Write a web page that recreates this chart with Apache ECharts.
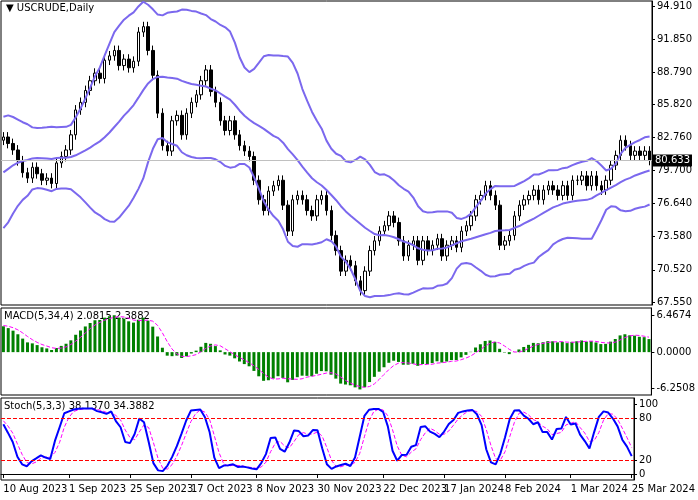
<!DOCTYPE html>
<html>
<head>
<meta charset="utf-8">
<script src="https://cdn.jsdelivr.net/npm/echarts@6/dist/echarts.min.js"></script>
<style>html,body{margin:0;padding:0;background:#fff}#main{width:698px;height:500px}</style>
</head>
<body>
<div id="main"></div>
<script>
// closes before the window, used only to warm up the indicators
var leadCloses = [70.5,71.8,72.0,73.5,74.0,75.4,76.9,76.5,75.8,75.4,75.7,75.6,75.0,75.8,76.5,77.1,77.0,78.7,79.0,79.7,
    79.3,78.8,80.5,81.4,81.8,82.0,81.6,82.4,83.0,82.5];
var closes = [82.8,82.2,81.6,80.6,79.5,79.0,80.0,79.4,78.8,
    79.0,78.5,80.4,81.0,81.6,83.0,85.3,86.0,87.1,
    88.0,88.7,88.2,89.9,90.3,90.8,89.4,90.0,
    89.2,89.8,92.5,93.0,90.8,88.5,85.0,82.0,81.5,84.3,
    84.8,83.0,85.0,86.0,86.7,88.0,89.0,87.0,86.0,84.3,
    83.4,84.3,83.0,82.0,81.5,81.0,78.8,77.0,76.0,77.8,
    78.3,78.8,76.5,74.1,77.0,77.4,77.0,76.0,75.5,77.0,
    77.4,76.0,73.7,72.3,70.4,71.4,70.9,69.5,68.6,70.4,
    72.3,73.2,74.1,74.6,75.5,74.9,73.2,71.8,72.8,73.2,71.4,
    73.2,72.3,72.8,73.4,71.8,72.8,73.2,72.6,74.1,74.6,75.5,77.0,
    77.4,78.3,77.4,76.5,72.8,73.2,73.7,75.5,76.5,77.0,
    77.4,77.9,77.0,77.9,78.3,77.9,77.4,78.3,77.4,78.8,
    78.8,79.2,78.3,79.2,78.3,77.9,78.8,80.2,81.1,82.5,
    82.0,81.1,81.5,81.1,81.5,80.633];
var dateLabels = ['10 Aug 2023','1 Sep 2023','25 Sep 2023','17 Oct 2023','8 Nov 2023','30 Nov 2023',
    '22 Dec 2023','17 Jan 2024','8 Feb 2024','1 Mar 2024','25 Mar 2024'];
var dateIndex = [0,14,27,40,54,67,81,94,107,121,134];
var priceTicks = [94.910,91.850,88.790,85.820,82.760,79.700,76.640,73.580,70.520,67.550];
var macdTicks = [6.4674,0.00,-6.2508];
var stochTicks = [100,80,20,0];
var lastPrice = 80.633;

var all = leadCloses.concat(closes);
var L = leadCloses.length;
var opens = [], highs = [], lows = [];
for (var i = 0; i < all.length; i++) {
    var o = i === 0 ? all[0] : all[i - 1];
    opens.push(o);
    highs.push(Math.max(o, all[i]) + 0.45);
    lows.push(Math.min(o, all[i]) - 0.45);
}
var cats = closes.map(function (c, i) {
    var k = dateIndex.indexOf(i);
    return k >= 0 ? dateLabels[k] : '';
});
var candles = closes.map(function (c, i) {
    return [opens[i + L], c, lows[i + L], highs[i + L]];
});

// Bollinger 20,2
var up = [], mid = [], lo = [];
for (var i = L; i < all.length; i++) {
    var s = all.slice(i - 19, i + 1);
    var m = s.reduce(function (a, b) { return a + b; }, 0) / 20;
    var v = Math.sqrt(s.reduce(function (a, b) { return a + (b - m) * (b - m); }, 0) / 20);
    mid.push(+m.toFixed(3)); up.push(+(m + 2 * v).toFixed(3)); lo.push(+(m - 2 * v).toFixed(3));
}
// MACD 5,34,4
function ema(arr, n) {
    var k = 2 / (n + 1), out = [arr[0]];
    for (var i = 1; i < arr.length; i++) out.push(arr[i] * k + out[i - 1] * (1 - k));
    return out;
}
var e5 = ema(all, 5), e34 = ema(all, 34);
var macdAll = all.map(function (c, i) { return e5[i] - e34[i]; });
var macd = [], signal = [];
for (var i = L; i < all.length; i++) {
    macd.push(+macdAll[i].toFixed(4));
    signal.push(+((macdAll[i] + macdAll[i - 1] + macdAll[i - 2] + macdAll[i - 3]) / 4).toFixed(4));
}
// Stoch 5,3,3
var kAll = [];
for (var i = 0; i < all.length; i++) {
    if (i < 7) { kAll.push(50); continue; }
    var num = 0, den = 0;
    for (var j = i - 2; j <= i; j++) {
        var hh = Math.max.apply(null, highs.slice(j - 4, j + 1));
        var ll = Math.min.apply(null, lows.slice(j - 4, j + 1));
        num += all[j] - ll; den += hh - ll;
    }
    kAll.push(100 * num / den);
}
var stK = [], stD = [];
for (var i = L; i < all.length; i++) {
    stK.push(+kAll[i].toFixed(2));
    stD.push(+((kAll[i] + kAll[i - 1] + kAll[i - 2]) / 3).toFixed(2));
}

var font = 'DejaVu Sans';
var myChart = echarts.init(document.getElementById('main'));
function yAx(idx, min, max, ticks, dec) {
    return {
        gridIndex: idx, type: 'value', position: 'right', min: min, max: max, scale: true,
        splitLine: {show: false},
        axisLine: {show: true, lineStyle: {color: '#000'}},
        axisTick: {show: true, length: 3, customValues: ticks, lineStyle: {color: '#000'}},
        axisLabel: {customValues: ticks, color: '#000', fontFamily: font, fontSize: 10, margin: 5,
            formatter: function (v) { return v.toFixed(dec); }}
    };
}
function xAx(idx, showLabel) {
    return {
        gridIndex: idx, type: 'category', data: cats, boundaryGap: true,
        axisLine: {show: showLabel, lineStyle: {color: '#000'}},
        axisTick: {show: showLabel, alignWithLabel: true, length: 4, interval: function (i, v) { return v !== ''; }, lineStyle: {color: '#000'}},
        axisLabel: {show: showLabel, interval: function (i, v) { return v !== ''; }, align: 'left',
            color: '#000', fontFamily: font, fontSize: 10, margin: 4},
        splitLine: {show: false}
    };
}
var option = {
    backgroundColor: '#fff',
    animation: false,
    grid: [
        {left: 1, right: 46, top: 1, height: 304, show: true, borderColor: '#000', borderWidth: 1},
        {left: 1, right: 46, top: 308, height: 87, show: true, borderColor: '#000', borderWidth: 1},
        {left: 1, right: 46, top: 398, height: 82, show: true, borderColor: '#000', borderWidth: 1}
    ],
    xAxis: [xAx(0, false), xAx(1, false), xAx(2, true)],
    yAxis: [
        yAx(0, 67.27, 95.37, priceTicks, 3),
        yAx(1, -7.47, 7.69, macdTicks, 4),
        yAx(2, -8.6, 108.6, stochTicks, 0)
    ],
    graphic: [
        {type: 'text', left: 6, top: 3, style: {text: '▼ USCRUDE,Daily', font: '10px ' + font, fill: '#000'}},
        {type: 'text', left: 4, top: 311, style: {text: 'MACD(5,34,4) 2.0815 2.3882', font: '10px ' + font, fill: '#000'}},
        {type: 'text', left: 4, top: 401, style: {text: 'Stoch(5,3,3) 38.1370 34.3882', font: '10px ' + font, fill: '#000'}}
    ],
    series: [
        {type: 'candlestick', xAxisIndex: 0, yAxisIndex: 0, data: candles, barWidth: 3,
            itemStyle: {color: '#fff', color0: '#000', borderColor: '#000', borderColor0: '#000', borderWidth: 1},
            markLine: {symbol: 'none', silent: true, data: [{yAxis: lastPrice}],
                lineStyle: {color: '#c0c0c0', type: 'solid', width: 1},
                label: {position: 'end', formatter: '80.633', backgroundColor: '#000', color: '#fff',
                    fontFamily: font, fontSize: 10, padding: [1, 2], distance: 1}}},
        {type: 'line', data: up, symbol: 'none', lineStyle: {color: '#7b68ee', width: 2}},
        {type: 'line', data: mid, symbol: 'none', lineStyle: {color: '#7b68ee', width: 2}},
        {type: 'line', data: lo, symbol: 'none', lineStyle: {color: '#7b68ee', width: 2}},
        {type: 'bar', xAxisIndex: 1, yAxisIndex: 1, data: macd, barWidth: 3, itemStyle: {color: '#008000'}},
        {type: 'line', xAxisIndex: 1, yAxisIndex: 1, data: signal, symbol: 'none',
            lineStyle: {color: '#ff00ff', width: 1, type: 'dashed'}},
        {type: 'line', xAxisIndex: 2, yAxisIndex: 2, data: stD, symbol: 'none',
            lineStyle: {color: '#ff00ff', width: 1, type: 'dashed'}},
        {type: 'line', xAxisIndex: 2, yAxisIndex: 2, data: stK, symbol: 'none',
            lineStyle: {color: '#0000ff', width: 2},
            markLine: {symbol: 'none', silent: true, label: {show: false}, data: [{yAxis: 80}, {yAxis: 20}],
                lineStyle: {color: '#ff0000', type: 'dashed', width: 1}}}
    ]
};
myChart.setOption(option);
</script>
</body>
</html>
